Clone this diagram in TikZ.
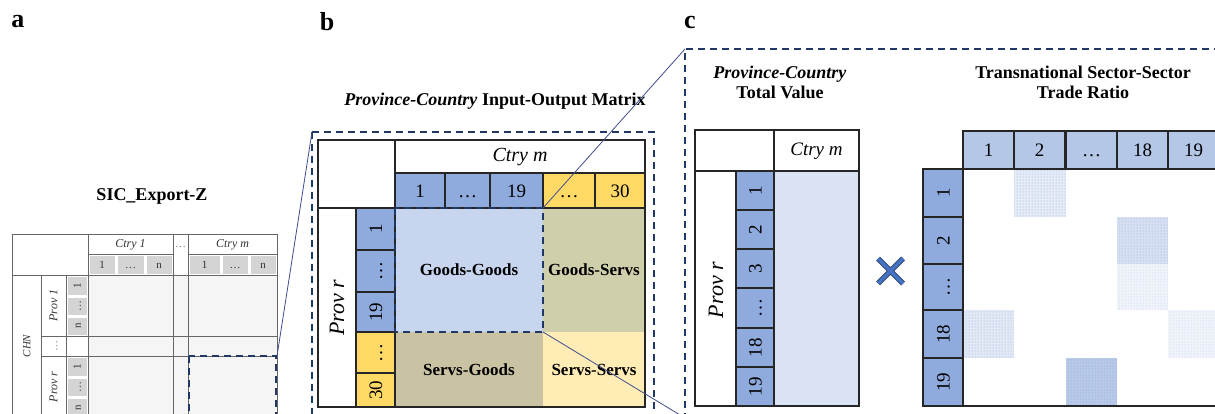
\documentclass[tikz,border=0pt]{standalone}
\usepackage{fontspec}
\setmainfont{Liberation Serif}
\usetikzlibrary{patterns}

\definecolor{secblue}{HTML}{8FAADC}
\definecolor{hdrblue}{HTML}{B4C7E7}
\definecolor{secyellow}{HTML}{FFD966}
\definecolor{ggfill}{HTML}{C7D5EE}
\definecolor{gsfill}{HTML}{CFCFAB}
\definecolor{sgfill}{HTML}{C9C3A3}
\definecolor{ssfill}{HTML}{FFEDB5}
\definecolor{tvfill}{HTML}{DAE3F3}
\definecolor{navy}{HTML}{203864}
\definecolor{zoomcol}{HTML}{404C8C}
\definecolor{crossblue}{HTML}{4472C4}

\newcommand{\fsz}[1]{\fontsize{#1}{#1}\selectfont}

\tikzset{
  cellline/.style={draw=black!85, line width=1.3pt},
  faintline/.style={draw=black!60, line width=0.7pt},
  zoombox/.style={draw=navy, line width=1.5pt, dash pattern=on 7pt off 5pt},
  zoomline/.style={draw=zoomcol, line width=0.8pt},
  paneltag/.style={font=\fsz{26}\bfseries},
  headtext/.style={font=\fontsize{18}{20}\selectfont\bfseries, align=center},
  numtext/.style={font=\fsz{19}, inner sep=0pt, text height=13pt, text depth=0pt},
  tinytext/.style={font=\fsz{11}, text=black!80, inner sep=0pt, text height=7.5pt, text depth=0pt},
  greycell/.style={fill=black!17, draw=white, line width=1pt},
}

\begin{document}
\begin{tikzpicture}[x=1pt,y=-1pt]
\clip (0,0) rectangle (1215,414);
\fill[white] (0,0) rectangle (1215,414);

% a
\node[paneltag] (taga) at (18,22) {a};
\node[headtext] (titlesic) at (152,196) {SIC\_Export-Z};
\fill[black!4] (88,275) rectangle (277,420);
\foreach \x/\w/\t [count=\i] in {88/28/1,116/29/\dots,145/28/n,188/33/1,221/28/\dots,249/28/n} {
  \filldraw[greycell] (\x+1,255) rectangle (\x+\w-1,274);
  \node[tinytext] (ah\i) at (\x+\w/2,264.5) {\t};
}
\foreach \y/\h/\t [count=\i] in {275/21/1,296/20/\dots,316/20/n,356/21/1,377/20/\dots,397/21/n} {
  \filldraw[greycell] (67,\y+1) rectangle (87,\y+\h-1);
  \node[tinytext, rotate=90] (av\i) at (77,\y+\h/2) {\t};
}
\draw[faintline] (12,234) rectangle (277,420);
\draw[faintline] (12,275) -- (277,275);
\draw[faintline] (88,234) -- (88,420) (173,234) -- (173,420) (188,234) -- (188,420);
\draw[faintline] (88,254) -- (173,254) (188,254) -- (277,254);
\draw[faintline] (41,275) -- (41,420) (66,275) -- (66,420);
\draw[faintline] (41,336) -- (277,336) (41,356) -- (277,356);
\node[tinytext, font=\fsz{12}\itshape] (ctryone) at (130.5,244) {Ctry 1};
\node[tinytext, font=\fsz{12}\itshape] (ctrysic) at (232.5,244) {Ctry m};
\node[tinytext, text=black!50] (coldots) at (180.5,244) {\dots};
\node[tinytext, font=\fsz{12}\itshape, rotate=90] (provone) at (53.5,305.5) {Prov 1};
\node[tinytext, text=black!50, rotate=90] (rowdots) at (53.5,346) {\dots};
\node[tinytext, font=\fsz{12}\itshape, rotate=90] (provsic) at (53.5,387) {Prov r};
\node[tinytext, font=\fsz{11}\itshape, rotate=90] (chn) at (26.5,346) {CHN};
\draw[zoombox] (189,356) rectangle (276,422);
\coordinate (asel) at (277,356);

% b
\node[paneltag] (tagb) at (327,22) {b};
\node[headtext] (titleio) at (495,101) {\textit{Province-Country} Input-Output Matrix};
\draw[zoombox] (312,132) -- (654,132) -- (654,420) (312,132) -- (312,420);
\coordinate (bbox) at (312,132);
\fill[ggfill] (395,208) rectangle (543,332);
\fill[gsfill] (543,208) rectangle (645,332);
\fill[sgfill] (395,332) rectangle (543,407);
\fill[ssfill] (543,332) rectangle (645,407);
\foreach \x/\w/\c/\t [count=\i] in {395/50/secblue/1,445/45/secblue/\dots,490/53/secblue/19,543/52/secyellow/\dots,595/50/secyellow/30} {
  \filldraw[fill=\c, cellline] (\x,173) rectangle +(\w,35);
  \node[numtext] (bh\i) at (\x+\w/2,190.5) {\t};
}
\foreach \y/\h/\c/\t [count=\i] in {208/42/secblue/1,250/42/secblue/\dots,292/40/secblue/19,332/41/secyellow/\dots,373/34/secyellow/30} {
  \filldraw[fill=\c, cellline] (356,\y) rectangle +(39,\h);
  \node[numtext, rotate=90] (bv\i) at (375.5,\y+\h/2) {\t};
}
\draw[cellline] (318,140) rectangle (645,407);
\draw[cellline] (395,140) -- (395,173) -- (645,173);
\draw[cellline] (318,208) -- (395,208);
\node[font=\fsz{20}\itshape] (ctryio) at (520,157) {Ctry m};
\node[font=\fsz{22}\itshape, rotate=90] (provio) at (337,307.5) {Prov r};
\node[font=\fsz{17}\bfseries] (gg) at (469,270) {Goods-Goods};
\node[font=\fsz{17}\bfseries] (gs) at (594,270) {Goods-Servs};
\node[font=\fsz{17}\bfseries] (sg) at (469,370) {Servs-Goods};
\node[font=\fsz{17}\bfseries] (ss) at (594,370) {Servs-Servs};
\draw[zoombox] (395,208) rectangle (543,332);
\coordinate (ggtop) at (543,208);
\coordinate (ggbot) at (543,332);

% c
\node[paneltag] (tagc) at (690,22) {c};
\draw[zoombox] (685,420) -- (685,49) -- (1225,49);
\coordinate (ctop) at (685,49);
\coordinate (cbot) at (685,418);
\node[headtext] (titletv) at (780,82) {\textit{Province-Country}\\Total Value};
\node[headtext] (titletr) at (1083,82) {Transnational Sector-Sector\\Trade Ratio};

\fill[tvfill] (774,171) rectangle (859,406);
\foreach \y/\t [count=\i] in {171/1,210/2,249/3,288/\dots,328/18,367/19} {
  \filldraw[fill=secblue, cellline] (736,\y) rectangle +(38,39.5);
  \node[numtext, rotate=90] (tv\i) at (755,\y+19.5) {\t};
}
\draw[cellline] (695,130) rectangle (859,406);
\draw[cellline] (695,171) -- (859,171) (774,130) -- (774,406);
\node[font=\fsz{19}\itshape] (ctrytv) at (816.5,151) {Ctry m};
\node[font=\fsz{22}\itshape, rotate=90] (provtv) at (716,290) {Prov r};

\draw[draw=navy!90, line width=5.5pt] (878,258.5) -- (903,283.5) (878,283.5) -- (903,258.5);
\draw[draw=crossblue, line width=3.5pt] (878,258.5) -- (903,283.5) (878,283.5) -- (903,258.5);

\foreach \x/\t [count=\i] in {963/1,1014/2,1066/\dots,1117/18,1168/19} {
  \filldraw[fill=hdrblue, cellline] (\x,131) rectangle +(51,38);
  \node[numtext] (th\i) at (\x+25.5,150) {\t};
}
\foreach \y/\h/\t [count=\i] in {169/48/1,217/47/2,264/46/\dots,310/48/18,358/48/19} {
  \filldraw[fill=secblue, cellline] (923,\y) rectangle +(40,\h);
  \node[numtext, rotate=90] (tr\i) at (943,\y+\h/2) {\t};
}
\fill[hdrblue!35] (1014,169) rectangle (1066,217);
\fill[pattern=dots, pattern color=secblue] (1014,169) rectangle (1066,217);
\fill[hdrblue!55] (1117,217) rectangle (1168,264);
\fill[pattern=dots, pattern color=secblue] (1117,217) rectangle (1168,264);
\fill[hdrblue!20] (1117,264) rectangle (1168,310);
\fill[pattern=dots, pattern color=hdrblue] (1117,264) rectangle (1168,310);
\fill[hdrblue!40] (963,310) rectangle (1014,358);
\fill[pattern=dots, pattern color=secblue] (963,310) rectangle (1014,358);
\fill[hdrblue!20] (1168,310) rectangle (1219,358);
\fill[pattern=dots, pattern color=hdrblue] (1168,310) rectangle (1219,358);
\fill[hdrblue!95] (1066,358) rectangle (1117,406);
\fill[pattern=dots, pattern color=crossblue!70] (1066,358) rectangle (1117,406);
\draw[cellline] (963,169) rectangle (1216,406);

% zoom lines
\draw[zoomline] (asel) -- (bbox);
\draw[zoomline] (ggtop) -- (ctop);
\draw[zoomline] (ggbot) -- (cbot);
\end{tikzpicture}
\end{document}
